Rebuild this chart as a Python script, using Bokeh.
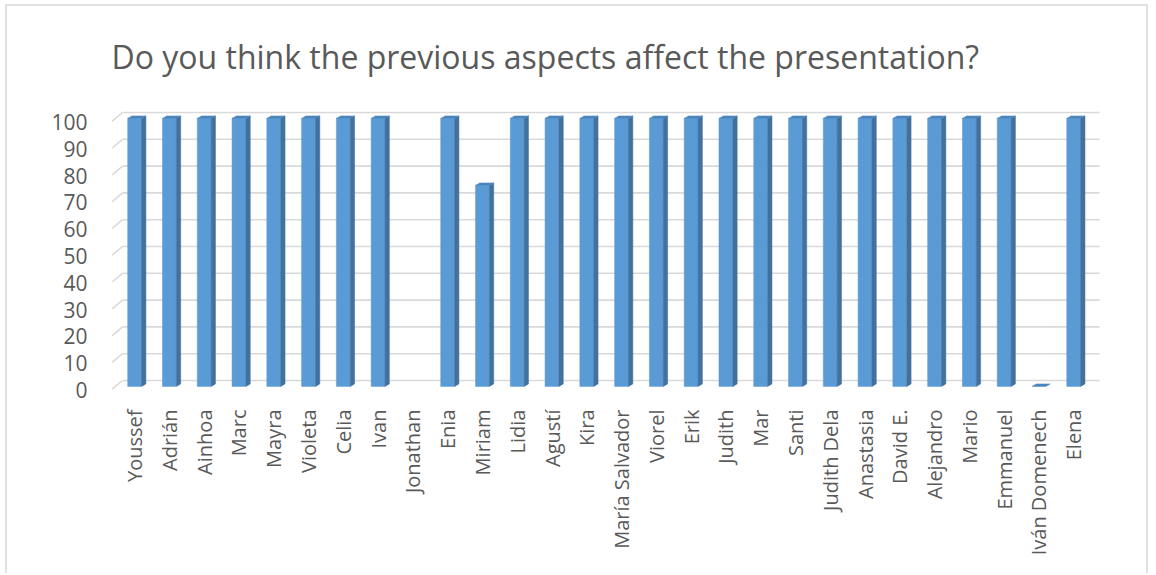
import math
from bokeh.plotting import figure
from bokeh.models import FixedTicker, Range1d
from bokeh.embed import file_html
from bokeh.resources import INLINE

# ---------------- data ----------------
names = ["Youssef", "Adrián", "Ainhoa", "Marc", "Mayra", "Violeta", "Celia", "Ivan",
         "Jonathan", "Enia", "Miriam", "Lidia", "Agustí", "Kira", "María Salvador",
         "Viorel", "Erik", "Judith", "Mar", "Santi", "Judith Dela", "Anastasia",
         "David E.", "Alejandro", "Mario", "Emmanuel", "Iván Domenech", "Elena"]
scores = [100, 100, 100, 100, 100, 100, 100, 100,
          None, 100, 75, 100, 100, 100, 100,
          100, 100, 100, 100, 100, 100, 100,
          100, 100, 100, 100, 0, 100]
y_ticks = [0, 10, 20, 30, 40, 50, 60, 70, 80, 90, 100]
title_text = "Do you think the previous aspects affect the presentation?"

# ---------------- style / geometry ----------------
FONT = "Open Sans"
TXT = "#595959"
GRID = "#d9d9d9"
FRONT = "#5B9BD5"
SIDE = "#41719C"
TOP = "#4A85BE"

OX, OY = 7, 6          # canvas origin on page
W, H = 1143, 569
FL, FR, FT, FB = 108, 1104, 100, 398   # frame on page

x0, dxp = 134.15, 34.78
y0, dyp = 389.5, 2.68
xs, xe = (FL - x0) / dxp, (FR - x0) / dxp
ys, ye = (y0 - FB) / dyp, (y0 - FT) / dyp

p = figure(width=W, height=H, output_backend="svg", toolbar_location=None,
           x_range=Range1d(xs, xe), y_range=Range1d(ys, ye),
           min_border_left=FL - OX, min_border_right=W - (FR - OX),
           min_border_top=FT - OY, min_border_bottom=H - (FB - OY),
           outline_line_color=None, background_fill_color="white",
           border_fill_color="white")
p.margin = (4, 0, 0, 5)
p.styles = {"border-left": "2px solid #e0e0e0", "border-top": "2px solid #e0e0e0",
            "border-right": "2px solid #e0e0e0"}

p.title.text = title_text
p.title.text_font = FONT
p.title.text_font_size = "32px"
p.title.text_font_style = "normal"
p.title.text_color = TXT
p.title.standoff = 46
p.title.offset = 3

p.xgrid.visible = False
p.ygrid.visible = False

# 3D gridlines (front-left diagonal + back wall line)
front_x, back_x, end_x = -0.645, -0.349, 27.742
g_front, g_back = 0.3, 3.54
p.segment(x0=[front_x] * len(y_ticks), y0=[t + g_front for t in y_ticks],
          x1=[back_x] * len(y_ticks), y1=[t + g_back for t in y_ticks],
          line_color=GRID, line_width=1.6)
p.segment(x0=[back_x] * len(y_ticks), y0=[t + g_back for t in y_ticks],
          x1=[end_x] * len(y_ticks), y1=[t + g_back for t in y_ticks],
          line_color=GRID, line_width=1.6)

# 3D bars
hw, ddx, ddy, base = 0.2, 0.124, 0.93, 1.35
fx, fy, sx, sy, tx, ty = [], [], [], [], [], []
for i, v in enumerate(scores):
    if v is None:
        continue
    b, t = base, base + v
    if v > 0:
        fx.append([i - hw, i + hw, i + hw, i - hw]); fy.append([b, b, t, t])
        sx.append([i + hw, i + hw + ddx, i + hw + ddx, i + hw]); sy.append([b, b + ddy, t + ddy, t])
    tx.append([i - hw, i + hw, i + hw + ddx, i - hw + ddx]); ty.append([t, t, t + ddy, t + ddy])

p.patches(fx, fy, fill_color=FRONT, line_color=FRONT, line_width=0.5)
p.patches(sx, sy, fill_color=SIDE, line_color=SIDE, line_width=0.5)
p.patches(tx, ty, fill_color=TOP, line_color=TOP, line_width=0.5)

# axes
p.yaxis.ticker = FixedTicker(ticks=y_ticks)
p.yaxis.axis_line_color = None
p.yaxis.major_tick_line_color = None
p.yaxis.minor_tick_line_color = None
p.yaxis.major_label_standoff = 15
p.yaxis.major_label_text_font = FONT
p.yaxis.major_label_text_font_size = "21px"
p.yaxis.major_label_text_color = TXT

p.xaxis.ticker = FixedTicker(ticks=list(range(len(names))))
p.xaxis.major_label_overrides = {i: n for i, n in enumerate(names)}
p.xaxis.major_label_orientation = math.pi / 2
p.xaxis.axis_line_color = None
p.xaxis.major_tick_line_color = None
p.xaxis.minor_tick_line_color = None
p.xaxis.major_label_standoff = 5
p.xaxis.major_label_text_font = FONT
p.xaxis.major_label_text_font_size = "20px"
p.xaxis.major_label_text_color = TXT

open("out.html", "w").write(file_html(p, INLINE))
